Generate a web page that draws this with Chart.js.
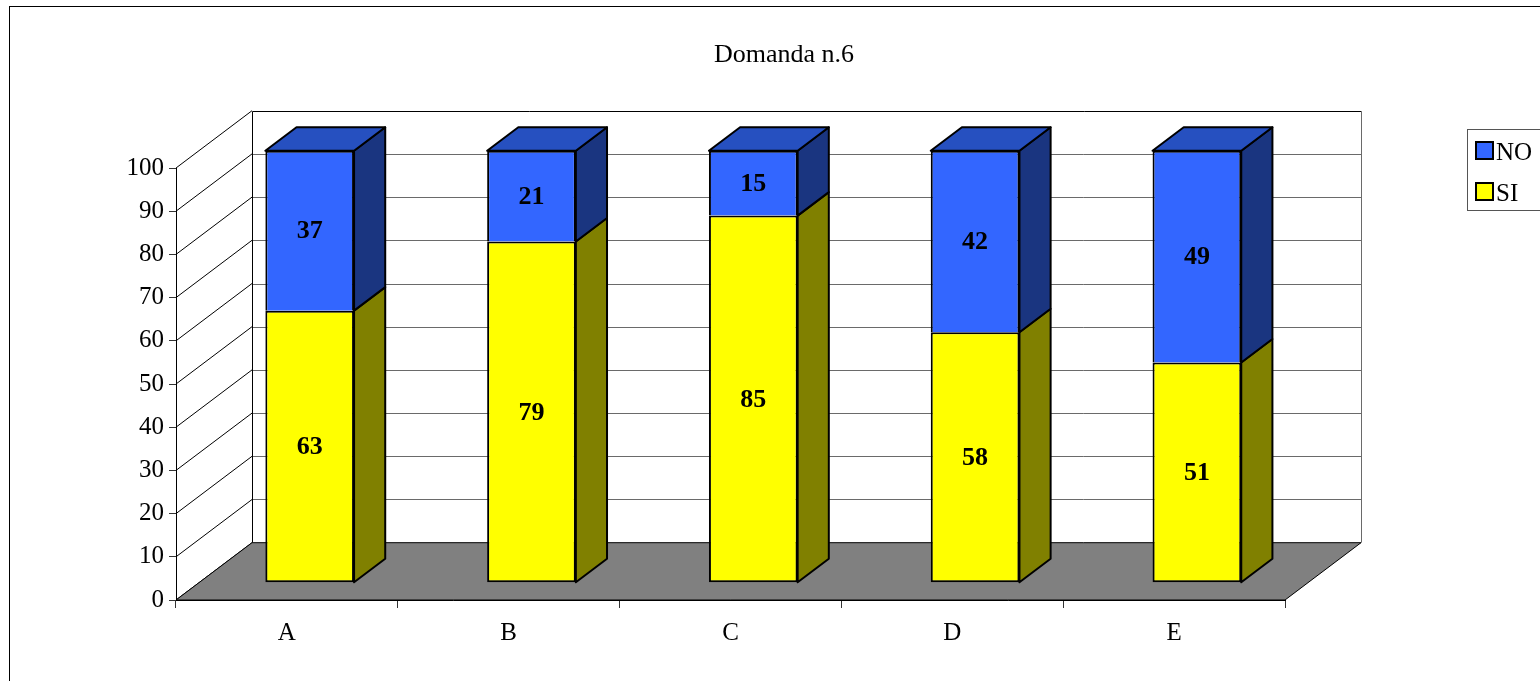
<!DOCTYPE html>
<html>
<head>
<meta charset="utf-8">
<script src="https://cdn.jsdelivr.net/npm/chart.js@4/dist/chart.umd.min.js"></script>
<style>
  html, body { margin: 0; padding: 0; background: #fff; overflow: hidden; }
  canvas { display: block; }
</style>
</head>
<body>
<canvas id="chart" width="1540" height="681"></canvas>
<script>
// ---- data ----
const categories = ['A', 'B', 'C', 'D', 'E'];
const siValues = [63, 79, 85, 58, 51];
const noValues = [37, 21, 15, 42, 49];
const seriesNames = ['SI', 'NO'];
const yMin = 0, yMax = 100, yStep = 10;
const titleText = 'Domanda n.6';

// ---- style ----
const FONT = '"Liberation Serif", "Times New Roman", serif';
// oblique depth of the plot box (walls and floor)
const DEPTH = { dx: 76, dy: -57.3 };
// bar front plane and bar thickness, as fractions of the box depth
const BAR_FRONT = 0.30, BAR_DEPTH = 0.41;

const faces = {
  SI: { front: '#FFFF00', side: '#808000', top: '#CCCC00' },
  NO: { front: '#3366FF', side: '#1A3580', top: '#2650C0' }
};

function seg(ctx, x1, y1, x2, y2) {
  ctx.beginPath(); ctx.moveTo(x1, y1); ctx.lineTo(x2, y2); ctx.stroke();
}
function poly(ctx, pts, fill, stroke, lw) {
  ctx.beginPath();
  pts.forEach((p, i) => i ? ctx.lineTo(p[0], p[1]) : ctx.moveTo(p[0], p[1]));
  ctx.closePath();
  if (fill) { ctx.fillStyle = fill; ctx.fill(); }
  if (stroke) { ctx.strokeStyle = stroke; ctx.lineWidth = lw; ctx.stroke(); }
}

// Draws the frame, title, walls, floor, bar sides/tops, value labels and legend
const box3d = {
  id: 'box3d',
  beforeDraw(chart) {
    const { ctx, chartArea: a, scales: { y } } = chart;
    const { dx, dy } = DEPTH;
    ctx.save();
    ctx.fillStyle = '#fff';
    ctx.fillRect(0, 0, chart.width, chart.height);

    // outer frame
    ctx.strokeStyle = '#000'; ctx.lineWidth = 1;
    ctx.strokeRect(9.5, 6.5, chart.width + 40, chart.height + 40);

    // title
    ctx.fillStyle = '#000';
    ctx.font = `26px ${FONT}`;
    ctx.textAlign = 'center'; ctx.textBaseline = 'alphabetic';
    ctx.fillText(titleText, 784, 62);

    const bx1 = a.left + dx, bx2 = a.right + dx;
    const backTop = y.getPixelForValue(yMax) + dy;
    const backBot = y.getPixelForValue(yMin) + dy;

    // back wall grid lines
    ctx.lineWidth = 1; ctx.strokeStyle = '#6a6a6a';
    for (let v = yMin + yStep; v < yMax; v += yStep) {
      const py = Math.round(y.getPixelForValue(v) + dy) + 0.5;
      seg(ctx, bx1, py, bx2, py);
    }
    // back wall frame
    ctx.strokeStyle = '#000';
    const t = Math.round(backTop) + 0.5;
    seg(ctx, Math.round(bx1) + 0.5, t, Math.round(bx2) + 0.5, t);
    ctx.strokeStyle = '#6a6a6a';
    seg(ctx, Math.round(bx2) + 0.5, t, Math.round(bx2) + 0.5, backBot);
    ctx.strokeStyle = '#000';
    seg(ctx, Math.round(bx1) + 0.5, t, Math.round(bx1) + 0.5, backBot);

    // side wall diagonals
    for (let v = yMin; v <= yMax; v += yStep) {
      const py = y.getPixelForValue(v);
      seg(ctx, a.left, py, a.left + dx, py + dy);
    }

    // floor
    const f = y.getPixelForValue(yMin);
    poly(ctx, [[a.left, f], [a.right, f], [a.right + dx, f + dy], [a.left + dx, f + dy]],
      '#808080', '#000', 1);
    ctx.restore();
  },
  beforeDatasetsDraw(chart) {
    chart.ctx.save();
    chart.ctx.translate(DEPTH.dx * BAR_FRONT, DEPTH.dy * BAR_FRONT);
  },
  afterDatasetsDraw(chart) {
    const ctx = chart.ctx;
    ctx.restore();
    const fx = DEPTH.dx * BAR_FRONT, fy = DEPTH.dy * BAR_FRONT;
    const bdx = DEPTH.dx * BAR_DEPTH, bdy = DEPTH.dy * BAR_DEPTH;
    const nSets = chart.data.datasets.length;
    ctx.save();
    ctx.lineJoin = 'round';
    chart.data.datasets.forEach((ds, di) => {
      const meta = chart.getDatasetMeta(di);
      const face = faces[ds.label];
      meta.data.forEach((el, i) => {
        const p = el.getProps(['x', 'y', 'base', 'width'], true);
        const L = p.x - p.width / 2 + fx, R = p.x + p.width / 2 + fx;
        const T = Math.min(p.y, p.base) + fy, B = Math.max(p.y, p.base) + fy;
        // right side face
        poly(ctx, [[R, T], [R + bdx, T + bdy], [R + bdx, B + bdy], [R, B]], face.side, '#000', 2);
        // top face only on the highest segment of each stack
        if (di === nSets - 1) {
          poly(ctx, [[L, T], [L + bdx, T + bdy], [R + bdx, T + bdy], [R, T]], face.top, '#000', 2);
        }
        // value label
        ctx.fillStyle = '#000';
        ctx.font = `bold 26px ${FONT}`;
        ctx.textAlign = 'center'; ctx.textBaseline = 'middle';
        ctx.fillText(String(ds.data[i]), p.x + fx, (T + B) / 2 + 1);
      });
    });
    ctx.restore();
  },
  afterDraw(chart) {
    const ctx = chart.ctx;
    ctx.save();
    // legend box
    ctx.strokeStyle = '#555'; ctx.lineWidth = 1;
    ctx.strokeRect(1467.5, 129.5, 200, 81);
    ctx.font = `25px ${FONT}`;
    ctx.textAlign = 'left'; ctx.textBaseline = 'alphabetic';
    const items = chart.data.datasets.slice().reverse();
    items.forEach((ds, k) => {
      const top = 142 + k * 41;
      ctx.fillStyle = ds.backgroundColor;
      ctx.fillRect(1476, top, 17, 17);
      ctx.strokeStyle = '#000'; ctx.lineWidth = 2;
      ctx.strokeRect(1476, top, 17, 17);
      ctx.fillStyle = '#000';
      ctx.fillText(ds.label, 1496, top + 18);
    });
    ctx.restore();
  }
};

const chart = new Chart(document.getElementById('chart'), {
  type: 'bar',
  data: {
    labels: categories,
    datasets: [
      { label: seriesNames[0], data: siValues, backgroundColor: faces.SI.front,
        borderColor: '#000', borderWidth: 2, borderSkipped: false },
      { label: seriesNames[1], data: noValues, backgroundColor: faces.NO.front,
        borderColor: '#000', borderWidth: 2, borderSkipped: 'bottom' }
    ]
  },
  options: {
    responsive: false,
    animation: false,
    devicePixelRatio: 1,
    layout: { padding: { top: 168, right: 255, left: 0, bottom: 0 } },
    datasets: { bar: { barPercentage: 0.4, categoryPercentage: 1.0, clip: false } },
    plugins: { legend: { display: false }, title: { display: false }, tooltip: { enabled: false } },
    scales: {
      x: {
        stacked: true,
        afterFit(s) { s.height = 81; },
        grid: { drawOnChartArea: false, offset: true, tickLength: 8, color: '#333' },
        border: { color: '#000' },
        ticks: { color: '#000', font: { family: FONT, size: 25 }, padding: 10, maxRotation: 0 }
      },
      y: {
        stacked: true, min: yMin, max: yMax,
        afterFit(s) { s.width = 176; },
        grid: { drawOnChartArea: false, tickLength: 7, color: '#333' },
        border: { color: '#000' },
        ticks: { stepSize: yStep, color: '#000', font: { family: FONT, size: 25 }, padding: 5 }
      }
    }
  },
  plugins: [box3d]
});
</script>
</body>
</html>
